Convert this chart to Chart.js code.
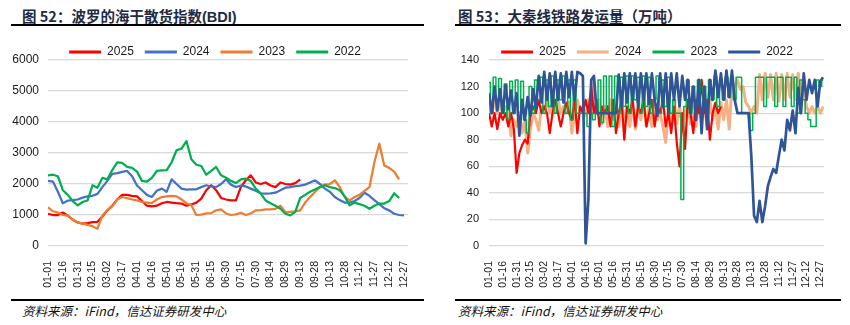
<!DOCTYPE html>
<html>
<head>
<meta charset="utf-8">
<title>BDI / 大秦线</title>
<script src="https://cdn.jsdelivr.net/npm/chart.js"></script>
<style>
  body { margin: 0; width: 850px; height: 325px; background: #fff; position: relative; overflow: hidden; }
  .title { position: absolute; top: 7px; font: bold 14.5px/17px "Noto Sans CJK SC", sans-serif; color: #1f2a44; white-space: nowrap; }
  .title b { font-family: "Liberation Sans", Arial, sans-serif; }
  .rule { position: absolute; height: 2px; background: #000; }
  .src { position: absolute; top: 303px; font: italic 12.5px/15px "Noto Sans CJK SC", sans-serif; color: #111; white-space: nowrap; }
  .box { position: absolute; top: 24px; height: 276px; }
</style>
</head>
<body>
<div class="title" style="left:22px">图 52：波罗的海干散货指数<b>(BDI)</b></div>
<div class="rule" style="left:11px; top:24px; width:413px"></div>
<div class="rule" style="left:11px; top:299px; width:413px"></div>
<div class="box" style="left:0; width:425px"><canvas id="bdiChart"></canvas></div>
<div class="src" style="left:22px">资料来源：iFind，信达证券研发中心</div>

<div class="title" style="left:458px">图 53：大秦线铁路发运量（万吨）</div>
<div class="rule" style="left:455px; top:24px; width:386px"></div>
<div class="rule" style="left:455px; top:299px; width:386px"></div>
<div class="box" style="left:425px; width:425px"><canvas id="dqChart"></canvas></div>
<div class="src" style="left:458px">资料来源：iFind，信达证券研发中心</div>

<script>
// x-axis tick labels (one every 15 days)
var dayTicks = ['01-01','01-16','01-31','02-15','03-02','03-17','04-01','04-16','05-01','05-16','05-31','06-15','06-30',
                '07-15','07-30','08-14','08-29','09-13','09-28','10-13','10-28','11-12','11-27','12-12','12-27'];
var seriesNames = ['2025', '2024', '2023', '2022'];

// BDI, one reading every 5 days from 01-01
var bdiStep = 5;
var bdi2025 = [1040,1000,1000,1080,980,850,760,720,740,770, 780,950,1150,1300,1500,1650,1650,1620,1600,1450,
               1300,1280,1300,1380,1420,1400,1380,1370,1300,1340, 1400,1530,1800,1960,1800,1550,1500,1470,1470,1900,
               2120,2280,2050,2000,2050,1950,1900,2050,2000,1980, 2030,2150];
var bdi2024 = [2100,2080,1750,1380,1460,1480,1500,1560,1600,1620, 1680,1900,2100,2330,2350,2390,2420,2250,1950,1800,
               1650,1580,1780,1850,1750,2150,2000,1850,1820,1830, 1830,1900,1960,1920,1900,2000,2150,1980,1900,1950,
               1920,1850,1780,1700,1690,1700,1720,1800,1880,1900, 1930,1950,1980,2050,2120,2000,1850,1750,1580,1480,
               1400,1400,1450,1550,1720,1620,1480,1350,1220,1150, 1040,1000,990];
var bdi2023 = [1250,1120,1080,1000,980,850,760,720,680,640, 560,980,1160,1280,1500,1580,1540,1500,1470,1420,
               1400,1380,1500,1580,1600,1620,1600,1500,1380,1310, 1000,1010,1050,1060,1150,1180,1050,1000,1020,1070,
               1000,1050,1150,1160,1180,1180,1200,1300,1090,1100, 1120,1150,1400,1580,1740,1900,1980,2000,2120,1900,
               1580,1470,1580,1650,1780,1900,2700,3300,2600,2520, 2400,2150];
var bdi2022 = [2280,2300,2250,1800,1650,1450,1310,1420,1470,1960, 1880,2200,2150,2450,2700,2680,2550,2520,2400,2100,
               2080,2200,2420,2440,2450,2700,3090,3140,3380,2800, 2620,2580,2300,2420,2550,2280,2200,2100,2030,2150,
               2170,2100,1850,1700,1470,1380,1300,1200,1040,990, 1100,1550,1650,1750,1820,1900,1960,1900,1870,1800,
               1600,1310,1400,1350,1300,1200,1300,1370,1370,1450, 1700,1550];

// 大秦线 daily volume, one reading every 3 days from 01-01
var dqStep = 3;
var dq2025 = [100,90,100,88,100,95,100,90,100,88, 55,70,76,80,77,100,105,100,110,100,
              105,100,85,100,110,100,90,100,108,100, 95,110,85,105,100,110,100,120,100,110,
              90,105,100,105,90,110,85,100,110,80, 105,100,110,90,105,100,110,90,100,110,
              90,105,100,110,90,100,85,105,78,60, 100,73,110,100,85,110,100,125,100,110,
              80,100,108,100,105];
var dq2024 = [105,100,110,100,108,100,105,100,83,95, 90,100,85,95,70,88,100,95,87,105,
              100,110,100,108,100,110,100,105,100,108, 85,100,110,100,105,98,110,100,125,100,
              110,92,105,90,110,95,105,90,110,92, 105,90,110,88,105,95,110,90,105,90,
              108,95,100,90,78,105,90,110,92,105, 90,100,110,92,105,90,110,95,105,90,
              110,95,105,88,108,95,110,88,122,120, 125,118,120,108,105,100,105,100,129,110,
              130,112,129,110,130,109,129,110,130,112, 129,110,130,115,118,105,100,105,100,105,
              100,105];
var dq2023 = [123,100,127,110,126,100,122,96,124,100, 125,98,124,95,85,120,100,125,110,127,
              100,125,105,128,100,125,110,128,100,125, 95,125,100,100,100,100,90,100,95,100,
              125,93,128,100,128,90,128,100,127,105, 128,100,128,110,127,100,128,105,127,100,
              110,128,100,125,105,127,100,110,100,100, 35,105,125,100,120,105,125,100,120,100,
              125,110,128,105,125,110,127,112,127,110, 127,127,100,100,100,87,100,127,127,127,
              105,127,127,127,105,127,127,105,127,127, 105,127,100,125,110,100,95,90,90,125,
              120,125];
var dq2022 = [115,100,120,102,118,100,121,103,117,100, 115,83,110,95,112,98,118,104,128,108,
              131,110,130,105,131,110,130,108,131,112, 131,110,131,130,128,2,35,125,128,100,
              100,100,100,100,100,100,100,129,105,130, 108,130,110,130,105,130,110,130,107,130,
              110,98,130,105,130,100,130,110,130,105, 128,110,125,100,120,95,125,85,120,88,
              125,110,132,112,130,110,132,112,132,110, 100,100,100,100,100,68,23,18,34,18,
              30,45,52,58,55,68,80,72,95,87, 102,85,119,100,130,110,125,115,125,105,
              124,127];

var axisFont = '"Liberation Sans", Arial, sans-serif';

function toPoints(values, step) {
    return values.map(function (v, i) { return { x: i * step, y: v }; });
}

function makeDataset(label, values, step, color, width, order, stepped) {
    return {
        label: label,
        data: toPoints(values, step),
        borderColor: color,
        backgroundColor: color,
        borderWidth: width,
        borderJoinStyle: 'round',
        pointRadius: 0,
        tension: 0,
        stepped: stepped || false,
        order: order
    };
}

// moves the legend box to line up with the reference
function legendShift(dx, dy) {
    return {
        id: 'legendShift',
        afterLayout: function (chart) {
            var lg = chart.legend;
            lg.left += dx; lg.right += dx;
            lg.top += dy; lg.bottom += dy;
        }
    };
}

function makeChart(id, datasets, yMax, yStep, yFontSize, pad, yWidth, yPad, dx) {
    return new Chart(document.getElementById(id), {
        type: 'line',
        data: { datasets: datasets },
        plugins: [legendShift(dx, 8)],
        options: {
            responsive: true,
            maintainAspectRatio: false,
            animation: false,
            layout: { padding: pad },
            plugins: {
                tooltip: { enabled: false },
                legend: {
                    position: 'top',
                    labels: {
                        boxWidth: 32,
                        boxHeight: 3,
                        padding: 11,
                        color: '#1a1a1a',
                        font: { family: axisFont, size: 12 },
                        sort: function (a, b) { return a.datasetIndex - b.datasetIndex; },
                        generateLabels: function (chart) {
                            return Chart.defaults.plugins.legend.labels.generateLabels(chart).map(function (l) {
                                l.fillStyle = l.strokeStyle;
                                l.lineWidth = 0;
                                return l;
                            });
                        }
                    }
                }
            },
            scales: {
                x: {
                    type: 'linear',
                    min: 0,
                    max: 364,
                    grid: { display: false },
                    border: { display: false },
                    afterFit: function (s) { s.height = 54; },
                    ticks: {
                        stepSize: 15,
                        autoSkip: false,
                        includeBounds: false,
                        maxRotation: 90,
                        minRotation: 90,
                        padding: 7,
                        color: '#1a1a1a',
                        font: { family: axisFont, size: 10.5 },
                        callback: function (v) { return dayTicks[v / 15] || ''; }
                    }
                },
                y: {
                    min: 0,
                    max: yMax,
                    grid: { color: '#d9d9d9', lineWidth: 1.2, drawTicks: false },
                    border: { display: false },
                    afterFit: function (s) { s.width = yWidth; },
                    ticks: {
                        stepSize: yStep,
                        padding: yPad,
                        color: '#1a1a1a',
                        font: { family: axisFont, size: yFontSize },
                        callback: function (v) { return String(v); }
                    }
                }
            }
        }
    });
}

makeChart('bdiChart', [
    makeDataset(seriesNames[0], bdi2025, bdiStep, '#ff0000', 2.25, 3),
    makeDataset(seriesNames[1], bdi2024, bdiStep, '#4472c4', 2.25, 2),
    makeDataset(seriesNames[2], bdi2023, bdiStep, '#ed7d31', 2.25, 1),
    makeDataset(seriesNames[3], bdi2022, bdiStep, '#00b050', 2.25, 0)
], 6000, 1000, 12, { left: 4, right: 17, top: 3, bottom: 0 }, 44, 9, 9);

makeChart('dqChart', [
    makeDataset(seriesNames[0], dq2025, dqStep, '#ff0000', 2.2, 2),
    makeDataset(seriesNames[1], dq2024, dqStep, '#f4b183', 3, 3),
    makeDataset(seriesNames[2], dq2023, dqStep, '#00b050', 1.5, 1, 'middle'),
    makeDataset(seriesNames[3], dq2022, dqStep, '#2f5597', 2.7, 0)
], 140, 10, 11, { left: 4, right: 26, top: 3, bottom: 0 }, 60, 10, 20.5);
</script>
</body>
</html>
